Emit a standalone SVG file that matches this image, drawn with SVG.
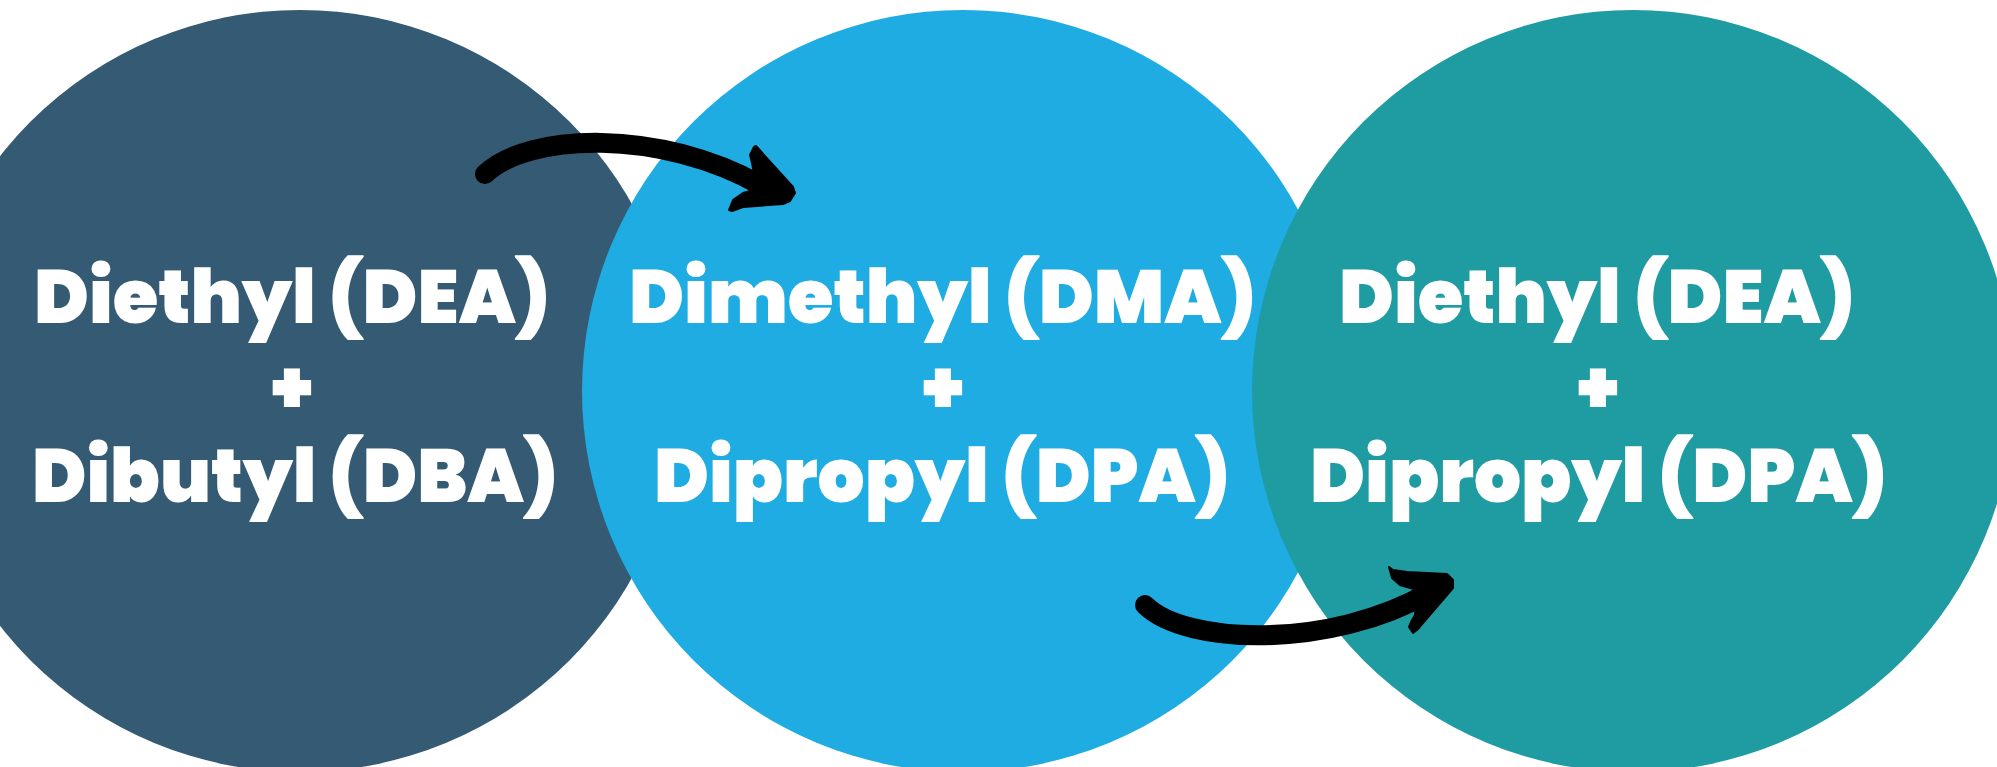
<svg xmlns="http://www.w3.org/2000/svg" width="1997" height="767" viewBox="0 0 1997 767">
  <style>
    .lbl { font-family: "Poppins", "Inter", "Open Sans", "Liberation Sans", sans-serif; font-weight: 900; font-size: 75px; fill: #ffffff; text-anchor: middle; }
    .conn { fill: none; stroke: #000000; stroke-width: 20; stroke-linecap: round; }
    .head { fill: #000000; stroke: #000000; stroke-width: 2; stroke-linejoin: round; }
  </style>
  <rect x="0" y="0" width="1997" height="767" fill="#ffffff"/>
  <g id="node-dea-dba">
    <circle cx="300" cy="391" r="381" fill="#345b73"/>
    <text class="lbl" x="292" y="323" textLength="516" lengthAdjust="spacingAndGlyphs">Diethyl (DEA)</text>
    <text class="lbl" x="292" y="413">+</text>
    <text class="lbl" x="295" y="502" textLength="526" lengthAdjust="spacingAndGlyphs">Dibutyl (DBA)</text>
  </g>
  <g id="node-dma-dpa">
    <circle cx="963" cy="391" r="381" fill="#1face2"/>
    <text class="lbl" x="942.5" y="323" textLength="627" lengthAdjust="spacingAndGlyphs">Dimethyl (DMA)</text>
    <text class="lbl" x="943" y="413">+</text>
    <text class="lbl" x="942" y="502" textLength="576" lengthAdjust="spacingAndGlyphs">Dipropyl (DPA)</text>
  </g>
  <g id="node-dea-dpa">
    <circle cx="1633" cy="391" r="381" fill="#1f9ba2"/>
    <text class="lbl" x="1597" y="323" textLength="516" lengthAdjust="spacingAndGlyphs">Diethyl (DEA)</text>
    <text class="lbl" x="1598" y="413">+</text>
    <text class="lbl" x="1598.5" y="502" textLength="577" lengthAdjust="spacingAndGlyphs">Dipropyl (DPA)</text>
  </g>
  <g id="connectors">
    <g id="arrow-1">
      <path class="conn" d="M485,174 C528,133 660,128 762,186"/>
      <polygon class="head" points="754,147 756,146 793,187 795,193 790,201 783,204 743,207 732,211 729,210 733,200 743,193 757,189 752,163 750,155"/>
    </g>
    <g id="arrow-2">
      <path class="conn" d="M1145,605 C1185,645 1330,650 1430,592"/>
      <polygon class="head" points="1389,567 1393,570 1407,572 1447,574 1453,580 1453,588 1417,630 1413,633 1409,627 1412,620 1415,615 1417,590 1400,585 1392,578"/>
    </g>
  </g>
</svg>
